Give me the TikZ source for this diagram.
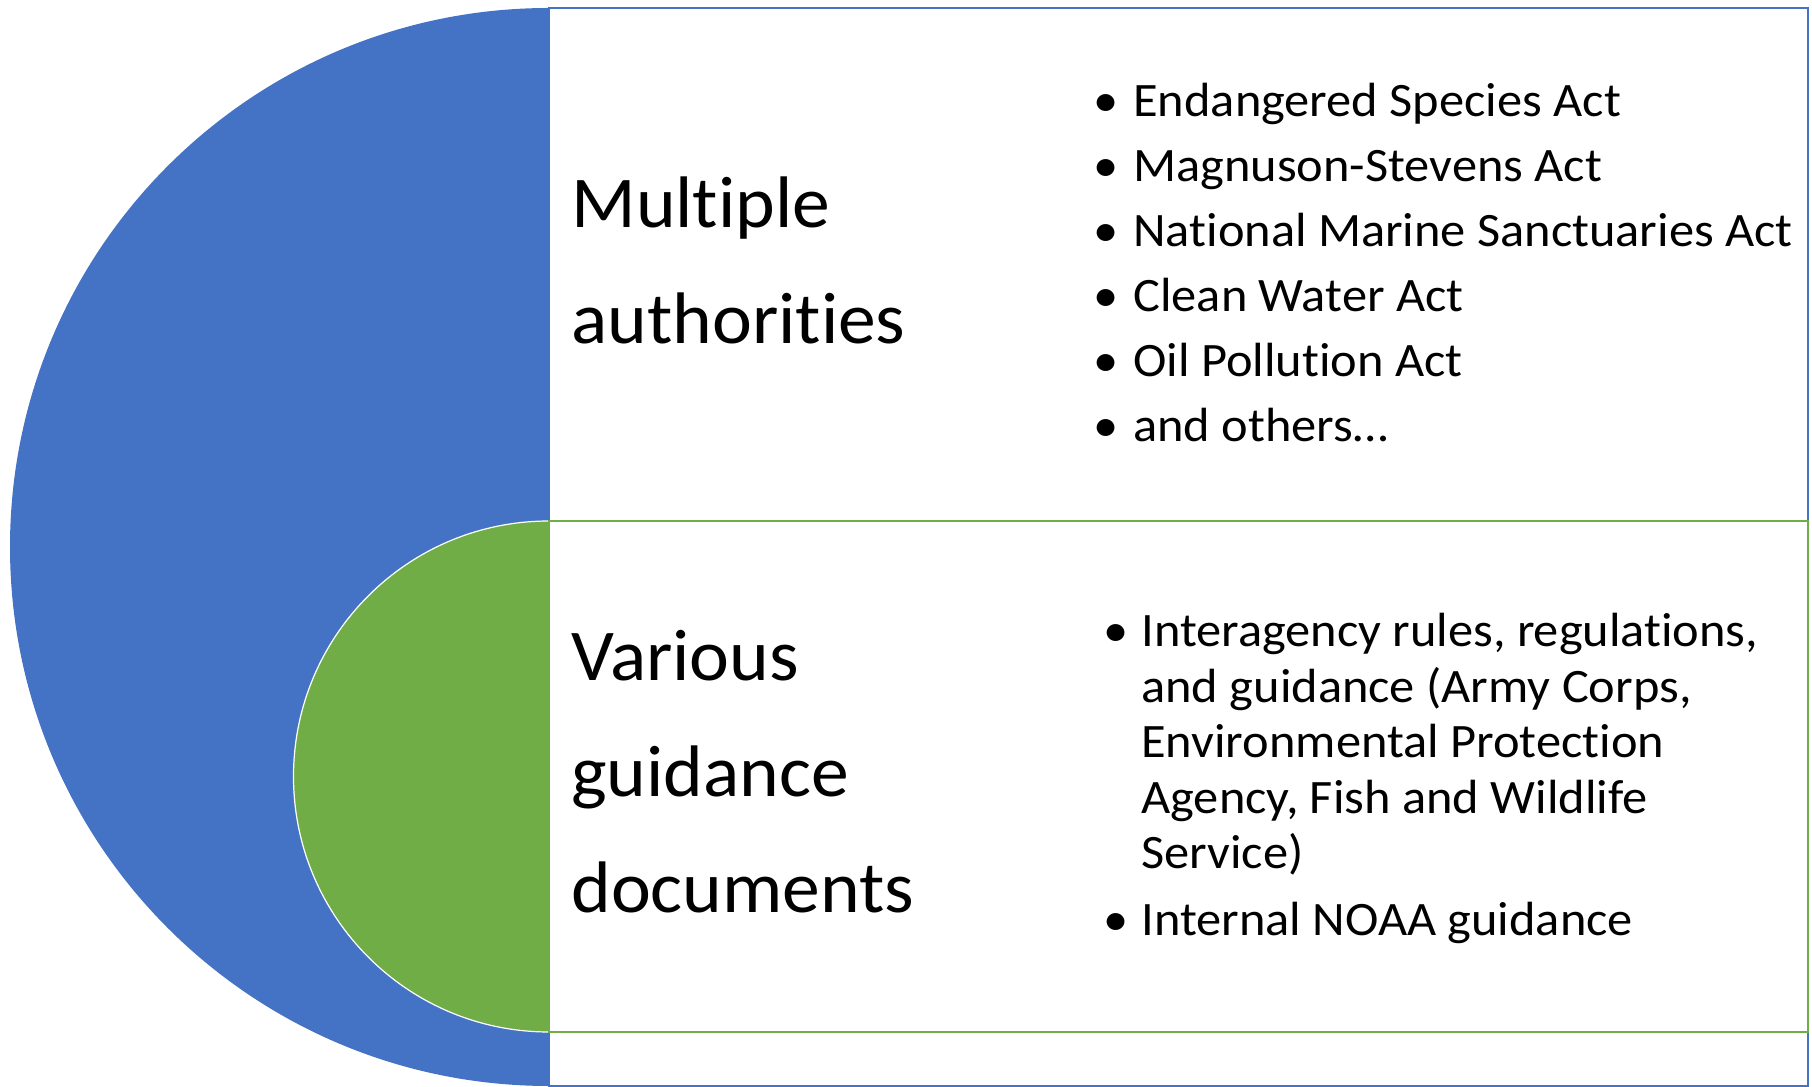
\documentclass[tikz,border=0pt]{standalone}
\usepackage{fontspec}
\setmainfont{Carlito}[Ligatures=NoCommon, Contextuals=NoAlternate]
\usepackage{graphicx}
\usepackage{xcolor}
\usepackage{tikz}
\usetikzlibrary{positioning}

\definecolor{outerblue}{HTML}{4472C4}
\definecolor{innergreen}{HTML}{70AD47}
\newcommand{\bul}[1]{\makebox[#1]{\textbullet}}

\begin{document}
\begin{tikzpicture}[x=0.5pt, y=0.5pt,
  headtext/.style={anchor=base west, inner sep=0pt, font=\fontsize{36.5}{58}\selectfont},
  itemtext/.style={anchor=base west, inner sep=0pt}]
\useasboundingbox (0,0) rectangle (1812,1087);

% Halbkreise
\fill[outerblue] (549,1079) arc[start angle=90, end angle=270, radius=539] -- cycle;
\fill[innergreen] (549,566) arc[start angle=90, end angle=270, radius=255.5] -- cycle;
\draw[white, line width=0.6pt] (549,566) arc[start angle=90, end angle=270, radius=255.5];

% Kaesten
\draw[outerblue, line width=0.75pt] (549,1) rectangle (1808,1079);
\draw[innergreen, line width=0.75pt] (549,55) rectangle (1808,566);

% Texte
\node[headtext] (authhead) at (571,859) {\scalebox{1.035}[1]{\begin{tabular}[t]{@{}l@{}}Multiple\\authorities\end{tabular}}};
\node[headtext] (guidehead) at (571,406) {\scalebox{1.035}[1]{\begin{tabular}[t]{@{}l@{}}Various\\guidance\\documents\end{tabular}}};

\node[itemtext] (actlist) at (1079,970) {\scalebox{1.05}[1]{\fontsize{24}{32.5}\selectfont
  \begin{tabular}[t]{@{}l@{}l@{}}
  \bul{25.7pt} & Endangered Species Act\\
  \bul{25.7pt} & Magnuson-Stevens Act\\
  \bul{25.7pt} & National Marine Sanctuaries Act\\
  \bul{25.7pt} & Clean Water Act\\
  \bul{25.7pt} & Oil Pollution Act\\
  \bul{25.7pt} & and others…
  \end{tabular}}};
\node[itemtext] (guidelist) at (1091,440) {\scalebox{1.05}[1]{\fontsize{24}{27.75}\selectfont
  \begin{tabular}[t]{@{}l@{}l@{}}
  \bul{23.8pt} & Interagency rules, regulations,\\
               & and guidance (Army Corps,\\
               & Environmental Protection\\
               & Agency, Fish and Wildlife\\
               & Service)\\[5.5pt]
  \bul{23.8pt} & Internal NOAA guidance
  \end{tabular}}};
\end{tikzpicture}
\end{document}
